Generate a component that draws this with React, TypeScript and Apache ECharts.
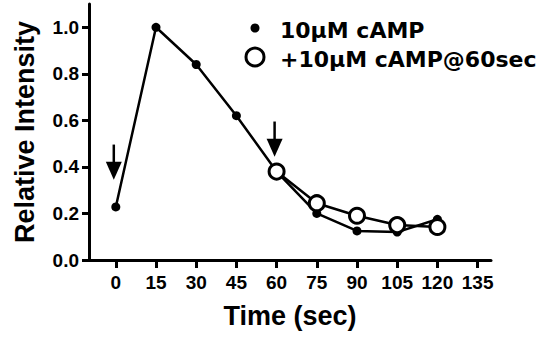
import React, { useEffect, useRef } from "react";
import * as echarts from "echarts";

const times = [0, 15, 30, 45, 60, 75, 90, 105, 120];
const camp = [0.228, 1.0, 0.84, 0.62, 0.38, 0.2, 0.125, 0.12, 0.175];
const campAt60 = [null, null, null, null, 0.38, 0.244, 0.19, 0.15, 0.142];
const xTicks = [0, 15, 30, 45, 60, 75, 90, 105, 120, 135];
const yTicks = [0, 0.2, 0.4, 0.6, 0.8, 1.0];
// arrow annotations: [time, tip value, tail value]
const arrows = [
  [0, 0.345, 0.496],
  [60, 0.444, 0.595],
];
const legendNames = ["10\u03bcM cAMP", "+10\u03bcM cAMP@60sec"];

const ARIAL = "'Liberation Sans', Arial, sans-serif";
const DEJAVU = "'DejaVu Sans', sans-serif";

export default function App() {
  const ref = useRef<HTMLDivElement>(null);
  useEffect(() => {
    if (!ref.current) return;
    const chart = echarts.init(ref.current, undefined, { renderer: "svg" });
    const labelStyle = { color: "#000", fontWeight: "bold", fontSize: 19, fontFamily: ARIAL };
    chart.setOption({
      animation: false,
      backgroundColor: "#fff",
      grid: { left: 89, right: 51, top: 4, bottom: 79 },
      xAxis: {
        type: "value",
        min: -10,
        max: 140,
        name: "Time (sec)",
        nameLocation: "middle",
        nameGap: 42,
        nameTextStyle: { color: "#000", fontWeight: "bold", fontSize: 27, fontFamily: ARIAL },
        axisLine: { show: true, onZero: false, lineStyle: { color: "#000", width: 3 } },
        axisTick: { show: true, length: 8, lineStyle: { color: "#000", width: 3 }, customValues: xTicks },
        axisLabel: { ...labelStyle, margin: 13, customValues: xTicks },
        splitLine: { show: false },
      },
      yAxis: {
        type: "value",
        min: 0,
        max: 1.1,
        name: "Relative Intensity",
        nameLocation: "middle",
        nameGap: 51,
        nameTextStyle: { color: "#000", fontWeight: "bold", fontSize: 27, fontFamily: ARIAL },
        axisLine: { show: true, onZero: false, lineStyle: { color: "#000", width: 3 } },
        axisTick: { show: true, length: 7, lineStyle: { color: "#000", width: 3 }, customValues: yTicks },
        axisLabel: {
          ...labelStyle,
          margin: 10,
          customValues: yTicks,
          formatter: (v: number) => v.toFixed(1),
        },
        splitLine: { show: false },
      },
      series: [
        {
          name: legendNames[0],
          type: "line",
          data: times.map((t, i) => [t, camp[i]]),
          symbol: "circle",
          symbolSize: 9,
          itemStyle: { color: "#000" },
          lineStyle: { color: "#000", width: 2.5 },
          z: 2,
        },
        {
          name: legendNames[1],
          type: "line",
          data: times.map((t, i) => [t, campAt60[i]]).filter((d) => d[1] !== null),
          symbol: "circle",
          symbolSize: 15,
          showAllSymbol: true,
          itemStyle: { color: "#fff", borderColor: "#000", borderWidth: 3 },
          lineStyle: { color: "#000", width: 2.5 },
          z: 3,
        },
      ],
    });
    const gfx: any[] = [
      { type: "circle", shape: { cx: 255, cy: 28, r: 4.5 }, style: { fill: "#000" } },
      { type: "circle", shape: { cx: 255, cy: 57, r: 9 }, style: { fill: "#fff", stroke: "#000", lineWidth: 3 } },
      {
        type: "text",
        x: 280,
        y: 30,
        style: { text: legendNames[0], fill: "#000", font: `bold 22px ${DEJAVU}`, verticalAlign: "middle" },
      },
      {
        type: "text",
        x: 280,
        y: 59,
        style: { text: legendNames[1], fill: "#000", font: `bold 22px ${DEJAVU}`, verticalAlign: "middle" },
      },
    ];
    arrows.forEach(([t, tip, tail]) => {
      const p1 = chart.convertToPixel({ gridIndex: 0 }, [t, tip]) as number[];
      const p0 = chart.convertToPixel({ gridIndex: 0 }, [t, tail]) as number[];
      const cx = p1[0] - 2;
      gfx.push({
        type: "line",
        shape: { x1: cx, y1: p0[1], x2: cx, y2: p1[1] - 10 },
        style: { stroke: "#000", lineWidth: 2.5 },
      });
      gfx.push({
        type: "polygon",
        shape: { points: [[cx - 8, p1[1] - 18], [cx + 8, p1[1] - 18], [cx, p1[1]]] },
        style: { fill: "#000" },
      });
    });
    chart.setOption({ graphic: gfx });
    return () => chart.dispose();
  }, []);
  return <div ref={ref} style={{ position: "fixed", left: 0, top: 0, width: 542, height: 339 }} />;
}
